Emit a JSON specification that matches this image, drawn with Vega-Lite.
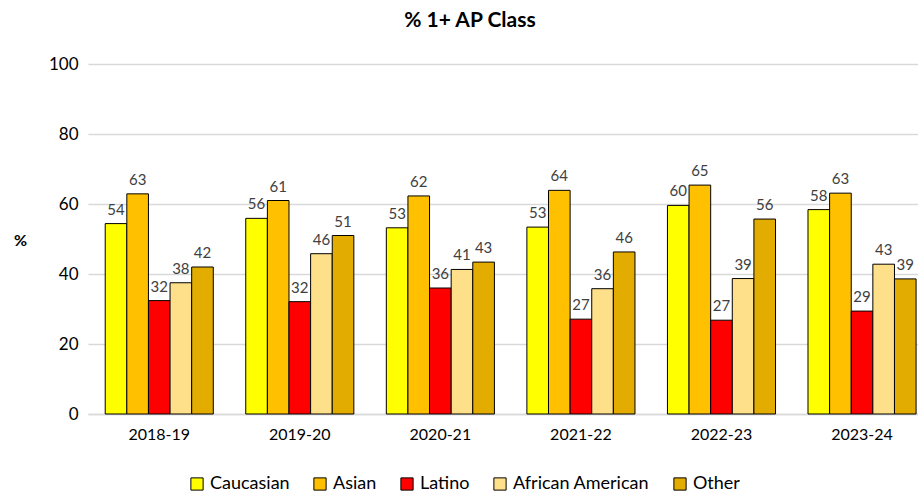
{
  "$schema": "https://vega.github.io/schema/vega-lite/v6.json",
  "width": 830,
  "height": 350,
  "autosize": {"type": "none"},
  "padding": {"left": 88, "top": 64, "right": 0, "bottom": 81},
  "background": "white",
  "config": {"font": "Lato", "view": {"stroke": null}},
  "title": {"text": "% 1+ AP Class", "font": "Lato", "fontSize": 21, "fontWeight": "bold", "color": "#000000", "anchor": "middle", "dx": -33, "offset": 24},
  "data": {"values": [
    {"year": "2018-19", "group": "Caucasian", "value": 54.4},
    {"year": "2018-19", "group": "Asian", "value": 62.9},
    {"year": "2018-19", "group": "Latino", "value": 32.4},
    {"year": "2018-19", "group": "African American", "value": 37.5},
    {"year": "2018-19", "group": "Other", "value": 42.0},
    {"year": "2019-20", "group": "Caucasian", "value": 55.9},
    {"year": "2019-20", "group": "Asian", "value": 61.0},
    {"year": "2019-20", "group": "Latino", "value": 32.1},
    {"year": "2019-20", "group": "African American", "value": 45.8},
    {"year": "2019-20", "group": "Other", "value": 51.0},
    {"year": "2020-21", "group": "Caucasian", "value": 53.2},
    {"year": "2020-21", "group": "Asian", "value": 62.3},
    {"year": "2020-21", "group": "Latino", "value": 36.0},
    {"year": "2020-21", "group": "African American", "value": 41.3},
    {"year": "2020-21", "group": "Other", "value": 43.4},
    {"year": "2021-22", "group": "Caucasian", "value": 53.4},
    {"year": "2021-22", "group": "Asian", "value": 63.9},
    {"year": "2021-22", "group": "Latino", "value": 27.1},
    {"year": "2021-22", "group": "African American", "value": 35.8},
    {"year": "2021-22", "group": "Other", "value": 46.3},
    {"year": "2022-23", "group": "Caucasian", "value": 59.6},
    {"year": "2022-23", "group": "Asian", "value": 65.4},
    {"year": "2022-23", "group": "Latino", "value": 26.8},
    {"year": "2022-23", "group": "African American", "value": 38.7},
    {"year": "2022-23", "group": "Other", "value": 55.7},
    {"year": "2023-24", "group": "Caucasian", "value": 58.4},
    {"year": "2023-24", "group": "Asian", "value": 63.1},
    {"year": "2023-24", "group": "Latino", "value": 29.4},
    {"year": "2023-24", "group": "African American", "value": 42.8},
    {"year": "2023-24", "group": "Other", "value": 38.6}
  ]},
  "encoding": {
    "x": {
      "field": "year", "type": "nominal",
      "sort": ["2018-19", "2019-20", "2020-21", "2021-22", "2022-23", "2023-24"],
      "scale": {"paddingInner": 0.231, "paddingOuter": 0.068, "align": 0.9},
      "axis": {"title": null, "labelAngle": 0, "labelFontSize": 16, "labelColor": "#000000", "ticks": false, "labelPadding": 12, "domainColor": "#D9D9D9", "domainWidth": 1.5}
    },
    "xOffset": {
      "field": "group", "type": "nominal",
      "sort": ["Caucasian", "Asian", "Latino", "African American", "Other"],
      "scale": {"paddingInner": 0, "paddingOuter": 0}
    },
    "y": {
      "field": "value", "type": "quantitative",
      "scale": {"domain": [0, 100]},
      "axis": {"values": [0, 20, 40, 60, 80, 100], "title": "%", "titleAngle": 0, "titleFontSize": 16, "titleFontWeight": "bold", "titleColor": "#000000", "titleX": -68, "titleY": 176, "titleAlign": "center", "titleBaseline": "middle", "labelFontSize": 17, "labelColor": "#000000", "labelPadding": 10, "ticks": false, "domain": false, "gridColor": "#D9D9D9", "gridWidth": 1.5}
    }
  },
  "layer": [
    {
      "mark": {"type": "bar", "stroke": "#000000", "strokeWidth": 1},
      "encoding": {
        "color": {
          "field": "group", "type": "nominal",
          "sort": ["Caucasian", "Asian", "Latino", "African American", "Other"],
          "scale": {"domain": ["Caucasian", "Asian", "Latino", "African American", "Other"], "range": ["#FFFF00", "#FFC000", "#FF0000", "#FFE08A", "#E2AC00"]},
          "legend": {"title": null, "orient": "none", "direction": "horizontal", "legendX": 100, "legendY": 411, "symbolType": "square", "symbolSize": 150, "symbolStrokeColor": "#000000", "symbolStrokeWidth": 1, "labelFontSize": 18, "labelColor": "#000000", "columnPadding": 21, "labelOffset": 4}
        }
      }
    },
    {
      "mark": {"type": "text", "baseline": "bottom", "dy": -6, "fontSize": 15, "color": "#404040"},
      "encoding": {"text": {"field": "value", "type": "quantitative", "format": ".0f"}}
    }
  ]
}
